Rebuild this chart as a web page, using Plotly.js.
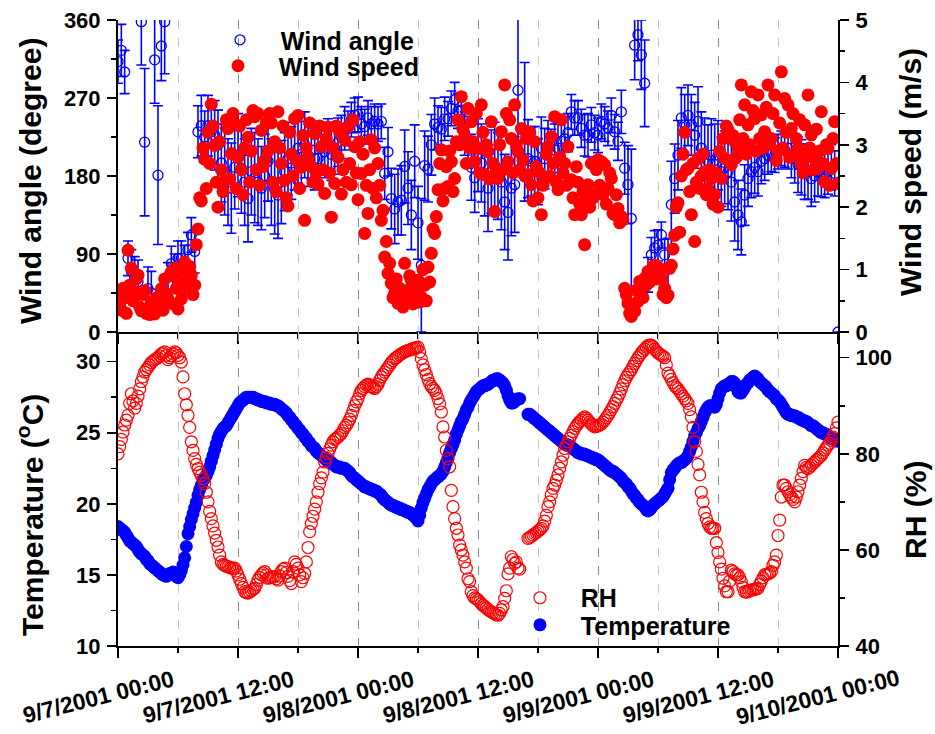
<!DOCTYPE html>
<html><head><meta charset="utf-8">
<script src="https://cdn.plot.ly/plotly-3.0.1.min.js"></script>
<style>html,body{margin:0;padding:0;background:#fff}#chart{width:935px;height:734px}</style>
</head><body><div id="chart"></div>
<script>
// records start 9/7/2001 00:00; wind angle every 20 minutes, other series every 10 minutes
const START = '2001-09-07T00:00:00Z';
const ANGLE_STEP_MIN = 20;
const STEP_MIN = 10;

const windAngle = [
312,325,300, 85,70,62, 58,358,219, 50,45,314, 181,330,358, 55,79,70,
85,85,80, 95,112,93, 231,238,225, 238,231,227, 216,195,185, 173,166,190,
204,189,173, 154,185,178, 173,166,180, 197,173,165, 158,173,185, 200,195,204,
212,205,216, 204,210,200, 200,212,208, 216,205,212, 219,225,235, 235,245,250,
251,240,237, 247,240,243, 240,243,183, 208,154,142, 150,152,191, 166,135,197,
126,77,192, 188,216,240, 236,234,246, 246,258,268, 255,256,229, 219,190,178,
204,195,182, 166,185,192, 180,173,150, 138,166,170, 279,null,231, 200,197,197,
185,212,200, 212,204,210, 212,220,223, 230,254,247, 247,235,227, 227,239,230,
227,243,240, 235,250,231, 220,254,189, 170,131,331, 343,320,287, 66,89,97,
100,112,89, 73,147,177, 204,247,239, 250,239,227, 243,212,205, 197,204,198,
204,185,190, 185,173,150, 135,127,158, 177,185,190, 185,197,200, 204,205,204,
208,212,210, 212,204,200, 193,190,185, 185,177,180, 185,183,181, 185,190,183,
0];
const windAngleErr = [
25,30,25, 20,25,25, 25,50,85, 25,25,50, 80,40,60, 25,20,20,
20,20,20, 20,20,25, 30,35,30, 35,35,40, 40,45,50, 50,52,48,
48,52,50, 50,50,52, 50,48,48, 46,50,52, 50,48,45, 42,42,40,
40,38,38, 36,34,36, 32,30,30, 30,30,30, 28,25,25, 20,20,20,
20,20,20, 20,20,20, 20,20,30, 28,35,40, 38,40,42, 42,40,42,
42,77,40, 38,35,30, 25,25,25, 20,20,20, 20,20,25, 30,38,40,
42,45,48, 50,48,50, 50,55,55, 55,55,55, 90,null,80, 45,40,40,
38,36,35, 32,30,30, 28,26,25, 22,20,20, 20,22,24, 25,20,20,
20,20,20, 20,20,20, 22,25,30, 45,80,40, 30,40,50, 20,20,20,
18,15,18, 35,50,40, 40,35,35, 35,35,38, 40,42,42, 42,42,42,
40,40,42, 44,45,45, 40,38,35, 32,30,30, 28,26,25, 22,20,20,
20,20,20, 24,26,28, 32,32,32, 32,32,30, 28,27,26, 26,26,26,
0];
const windSpeed = [
0.62,0.45,0.35,0.70,0.55,0.30, 1.31,0.75,1.02,0.50,0.64,0.85, 0.91,0.40,0.34,0.60,0.66,0.30,
0.37,0.28,0.48,0.32,0.29,0.55, 0.37,0.45,0.69,0.35,0.85,0.60, 0.53,0.90,0.96,0.45,1.02,0.70,
0.37,0.80,0.53,0.95,1.12,0.70, 0.85,1.05,0.91,0.60,0.75,1.40, 1.65,2.15,2.10,2.95,2.77,2.30,
3.20,2.70,3.65,3.30,2.99,2.40, 2.00,3.05,2.60,2.25,2.43,3.40, 3.26,2.45,2.86,3.50,3.34,2.30,
2.80,3.30,2.60,2.20,2.95,3.40, 3.12,2.40,2.90,3.55,3.45,2.60, 3.50,2.35,3.23,2.65,2.75,3.35,
2.90,3.50,3.35,2.40,3.05,2.25, 3.53,2.95,2.70,3.30,2.43,2.15, 2.02,3.20,2.85,2.50,3.42,2.75,
3.47,2.30,2.64,3.15,1.79,2.95, 2.80,3.35,2.65,2.40,3.18,2.55, 2.37,3.30,2.97,2.60,2.22,3.10,
3.28,2.55,1.84,2.95,2.38,3.30, 2.80,3.20,2.21,2.60,3.08,2.40, 3.29,2.70,2.36,3.40,2.97,2.55,
2.12,3.05,2.54,2.85,1.58,2.35, 1.90,2.60,3.08,2.30,2.95,2.15, 2.70,2.35,1.79,1.95,1.20,1.45,
0.94,1.10,0.78,0.55,0.62,0.85, 0.46,0.70,0.65,0.40,1.10,0.55, 0.67,0.90,0.83,0.45,0.62,0.75,
0.83,0.48,0.56,1.00,0.75,0.50, 1.04,0.80,1.26,1.65,1.58,1.85, 2.28,2.70,2.92,2.10,2.30,2.65,
2.33,2.90,2.73,2.25,2.46,3.05, 3.40,3.00,3.77,3.25,3.13,2.70, 3.58,2.95,3.37,3.05,2.73,3.50,
2.94,2.55,3.64,3.20,2.52,3.00, 2.89,2.45,3.37,2.70,1.93,2.60, 2.46,3.00,3.21,2.60,3.96,3.50,
2.73,3.40,3.10,2.55,3.64,3.00, 2.89,2.60,3.26,2.75,2.50,3.10, 2.52,3.20,2.36,2.10,3.05,2.65,
2.15,2.55,1.88,2.35,2.45,2.85, 2.97,2.50,3.13,2.70,3.45,2.40, 2.28,2.80,3.40,2.55,2.70,2.35,
2.97,2.40,2.44,2.15,1.88,2.65, 2.40,2.05,1.88,2.25,1.40,2.15, 2.36,2.00,2.70,2.15,2.20,2.60,
2.76,2.35,2.73,2.20,2.68,2.05, 2.30,2.55,2.46,1.90,1.88,2.20, 1.98,1.75,1.85,1.80,0.70,0.60,
0.46,0.30,0.25,0.35,0.33,0.67, 0.49,0.81,0.70,0.55,0.86,0.75, 0.97,0.80,0.90,1.05,1.07,0.85,
0.97,1.02,0.86,0.60,0.70,0.55, 0.59,1.02,1.07,1.33,1.55,2.00, 2.07,1.60,2.50,2.85,3.20,2.60,
2.62,2.25,1.88,2.70,1.45,2.40, 2.78,2.30,2.50,2.85,2.57,2.20, 2.30,2.60,2.46,2.05,2.20,2.55,
2.00,2.90,2.46,3.10,2.78,3.30, 3.24,2.75,2.68,3.15,3.05,2.80, 2.94,3.40,3.96,3.10,3.64,2.85,
3.32,3.00,3.85,3.55,3.42,2.90, 3.80,3.10,3.48,2.95,3.21,3.60, 3.96,3.00,3.10,3.50,3.80,2.75,
2.90,3.35,4.17,2.95,3.74,3.20, 3.64,2.80,3.26,3.50,2.84,3.10, 2.94,3.40,2.68,2.55,3.32,2.80,
3.80,2.95,3.16,2.60,2.78,3.25, 2.62,2.90,3.53,2.70,2.41,3.00, 2.94,2.35,2.62,3.10,3.37,2.70,
2.38];
const temperature = [
18.4,18.3,18.2,18.1,18.0,17.8, 17.6,17.4,17.3,17.2,17.1,17.0, 16.8,16.6,16.5,16.4,16.3,16.1,
16.0,15.8,15.7,15.6,15.5,15.4, 15.3,15.2,15.1,15.0,15.0,14.9, 15.0,15.1,15.1,15.2,15.0,14.9,
14.8,15.0,15.3,15.7,16.2,17.0, 17.9,18.4,18.9,19.3,19.7,20.1, 20.6,21.0,21.3,21.6,21.8,22.0,
22.3,22.6,23.0,23.4,23.8,24.2, 24.6,24.9,25.1,25.3,25.4,25.5, 25.7,25.9,26.1,26.3,26.5,26.7,
26.9,27.1,27.2,27.3,27.4,27.5, 27.5,27.5,27.5,27.5,27.4,27.4, 27.3,27.3,27.2,27.2,27.2,27.1,
27.1,27.1,27.0,27.0,27.0,26.9, 26.9,26.8,26.7,26.6,26.5,26.4, 26.2,26.1,25.9,25.8,25.6,25.5,
25.3,25.2,25.0,24.9,24.7,24.6, 24.4,24.3,24.1,24.0,23.9,23.7, 23.6,23.5,23.4,23.3,23.2,23.1,
23.0,23.0,22.9,22.8,22.7,22.6, 22.6,22.6,22.5,22.5,22.5,22.4, 22.3,22.2,22.0,21.9,21.8,21.7,
21.6,21.5,21.4,21.3,21.2,21.2, 21.1,21.1,21.0,21.0,20.9,20.9, 20.8,20.7,20.6,20.4,20.3,20.2,
20.1,20.0,19.9,19.9,19.8,19.8, 19.7,19.7,19.6,19.6,19.5,19.5, 19.4,19.4,19.3,19.2,19.1,19.0,
18.8,19.2,19.7,20.1,20.4,20.7, 21.0,21.2,21.4,21.6,21.7,21.8, 21.9,22.0,22.1,22.3,22.6,22.9,
23.3,23.6,23.9,24.2,24.5,24.9, 25.2,25.5,25.8,26.0,26.3,26.6, 26.8,27.1,27.3,27.5,27.7,27.9,
28.0,28.1,28.2,28.3,28.3,28.4, 28.4,28.5,28.6,28.7,28.7,28.8, 28.8,28.7,28.6,28.5,28.3,28.0,
27.6,27.3,27.1,27.1,27.2,27.3, 27.4,27.4,null,null,null,null, 26.3,26.3,26.2,26.1,26.0,25.9,
25.8,25.7,25.6,25.5,25.4,25.3, 25.2,25.1,25.0,24.9,24.8,24.7, 24.6,24.5,24.4,24.3,24.2,24.2,
24.1,24.1,24.0,23.9,23.8,23.7, 23.6,23.6,23.5,23.5,23.5,23.4, 23.4,23.3,23.3,23.2,23.2,23.1,
23.1,23.0,22.9,22.8,22.7,22.6, 22.5,22.4,22.3,22.3,22.2,22.1, 22.0,21.9,21.8,21.6,21.5,21.4,
21.2,21.1,20.9,20.7,20.6,20.4, 20.3,20.1,20.0,19.9,19.8,19.6, 19.5,19.6,19.7,19.9,20.0,20.1,
20.2,20.3,20.4,20.5,20.7,20.9, 21.1,21.7,22.2,22.4,22.5,22.7, 22.8,22.9,22.9,23.0,23.1,23.2,
23.4,23.7,24.0,24.4,24.8,25.0, 25.3,25.5,25.8,26.1,26.4,26.6, 26.8,26.9,26.9,26.9,26.8,27.0,
27.4,27.8,28.1,28.2,28.3,28.3, 28.4,28.5,28.6,28.6,28.5,28.2, 27.9,27.8,27.8,28.0,28.2,28.4,
28.5,28.7,28.8,28.9,29.0,28.9, 28.8,28.6,28.5,28.4,28.3,28.2, 28.0,27.9,27.8,27.7,27.6,27.4,
27.3,27.2,27.0,26.8,26.6,26.4, 26.3,26.3,26.2,26.2,26.2,26.1, 26.1,26.0,25.9,25.9,25.8,25.8,
25.7,25.6,25.5,25.5,25.4,25.3, 25.2,25.1,25.0,25.0,24.9,24.9, 24.8,24.7,24.6,24.6,24.5,24.5,
24.4];
const rh = [
80.0,81.5,83.0,84.5,86.0,87.0, 88.0,90.5,92.5,91.0,89.5,90.5, 92.0,93.5,95.0,96.0,97.0,97.5,
98.0,98.5,99.0,99.3,99.6,99.8, 100.0,100.4,100.8,101.0,101.2,100.5, 99.6,100.0,100.4,100.8,101.2,101.0,
100.5,100.0,99.1,96.0,92.5,90.2, 88.0,85.5,82.5,80.7,79.0,77.8, 76.9,76.2,75.5,74.8,73.8,72.0,
70.0,68.0,66.5,65.0,63.5,62.0, 60.6,58.9,57.5,57.0,56.8,56.6, 56.5,56.3,56.2,56.2,56.2,55.6,
54.8,53.9,53.0,52.2,51.3,51.1, 51.0,51.2,51.5,51.8,52.0,52.8, 53.7,54.3,54.8,55.2,55.5,54.8,
54.1,54.2,54.4,54.4,54.4,54.0, 53.7,54.6,55.5,56.0,56.2,55.3, 54.5,53.6,53.0,55.5,57.5,57.0,
56.2,54.8,53.4,54.2,55.1,57.5, 60.5,63.8,65.5,67.0,68.5,70.0, 72.0,73.8,75.0,76.2,78.3,79.2,
80.1,81.0,81.8,82.5,83.0,83.2, 83.5,83.9,84.2,84.8,85.5,85.9, 86.5,87.2,88.0,89.0,90.0,90.8,
91.5,92.5,93.2,93.6,94.0,94.3, 94.5,94.3,94.0,93.8,93.6,94.0, 94.5,95.3,96.0,96.5,97.0,97.5,
98.0,98.5,99.0,99.4,99.8,100.0, 100.3,100.6,100.8,101.0,101.2,101.4, 101.5,101.6,101.8,101.9,102.0,102.1,
102.2,101.2,99.8,98.5,97.5,96.5, 95.5,94.6,94.0,93.6,93.2,92.5, 91.5,90.4,88.7,85.6,83.5,80.7,
79.0,77.3,72.4,69.0,66.5,64.5, 63.1,61.0,60.0,58.9,57.5,56.2, 54.0,53.4,51.3,50.5,50.0,49.8,
49.6,49.2,48.8,48.5,48.2,47.9, 47.6,47.3,47.1,46.9,46.7,46.5, 46.4,46.8,47.5,48.2,49.9,51.5,
55.0,56.2,58.6,58.0,57.2,57.5, 56.2,56.0,null,null,null,null, 62.4,62.6,62.8,63.1,63.4,63.6,
63.9,64.2,64.5,65.0,66.0,67.2, 69.0,70.0,71.5,72.8,73.5,74.5, 75.6,77.0,78.3,79.7,81.1,81.8,
82.5,83.2,83.9,84.6,85.3,85.8, 86.3,86.7,87.0,87.4,87.7,87.4, 87.0,86.6,86.2,85.9,85.6,85.7,
85.8,86.0,86.2,86.6,87.0,87.5, 88.0,88.6,89.2,89.8,90.5,91.2, 91.8,92.6,93.5,94.4,95.2,95.9,
96.5,97.0,97.5,98.2,98.8,99.4, 100.0,100.5,101.0,101.4,101.8,102.2, 102.5,102.6,102.6,102.3,101.8,101.4,
101.0,100.8,100.5,100.3,100.0,98.5, 96.8,96.2,95.5,94.8,94.2,93.8, 93.5,93.0,92.5,92.0,91.5,91.0,
90.5,89.2,87.7,85.5,82.5,80.5, 77.8,75.6,72.0,70.0,67.8,66.5, 65.5,64.8,64.5,64.5,64.5,61.5,
59.5,57.5,56.0,54.1,52.5,51.3, 51.3,53.5,55.8,55.5,55.0,54.8, 54.8,54.2,53.4,52.2,51.3,51.2,
51.3,51.5,51.7,51.7,51.8,51.9, 52.0,52.8,53.5,54.2,54.8,54.9, 55.0,55.2,55.5,56.8,57.5,58.9,
63.0,66.2,71.0,73.5,73.5,72.8, 72.1,71.5,71.0,70.5,70.0,71.0, 72.1,73.5,74.9,76.3,77.6,77.2,
76.9,77.2,77.6,78.0,78.3,78.7, 79.0,79.3,79.7,80.2,80.8,81.3, 81.8,82.2,82.8,83.5,84.2,85.4,
86.6];

const tickTimes = ['2001-09-07 00:00','2001-09-07 12:00','2001-09-08 00:00','2001-09-08 12:00',
                   '2001-09-09 00:00','2001-09-09 12:00','2001-09-10 00:00'];
const tickLabels = ['9/7/2001 00:00','9/7/2001 12:00','9/8/2001 00:00','9/8/2001 12:00',
                    '9/9/2001 00:00','9/9/2001 12:00','9/10/2001 00:00'];

function timeGrid(n, stepMin){
  const out = [];
  for (let i = 0; i < n; i++){
    const d = new Date(Date.parse(START) + i*stepMin*60000);
    out.push(d.toISOString().slice(0,16).replace('T',' '));
  }
  return out;
}
const angleTimes = timeGrid(windAngle.length, ANGLE_STEP_MIN);
const times = timeGrid(windSpeed.length, STEP_MIN);

const BLUE = '#0000ff', RED = '#ff0000';
const FONT = 'Liberation Sans, Arial, Helvetica, sans-serif';
const NB = '\u00a0\u00a0\u00a0';

const traces = [
  {x: angleTimes, y: windAngle, type:'scatter', mode:'markers', name: NB+'Wind angle', xaxis:'x', yaxis:'y',
   marker:{symbol:'circle-open', size:10, color:BLUE, line:{width:1.3, color:BLUE}},
   error_y:{type:'data', array: windAngleErr, visible:true, color:BLUE, thickness:1.6, width:5},
   legend:'legend'},
  {x: times, y: windSpeed, type:'scatter', mode:'markers', name: NB+'Wind speed', xaxis:'x', yaxis:'y2',
   marker:{symbol:'circle', size:13, color:RED}, legend:'legend2'},
  {x: times, y: temperature, type:'scatter', mode:'markers', name: NB+'Temperature', xaxis:'x2', yaxis:'y3',
   marker:{symbol:'circle', size:13, color:BLUE}, legend:'legend4'},
  {x: times, y: rh, type:'scatter', mode:'markers', name: NB+'RH', xaxis:'x2', yaxis:'y4',
   marker:{symbol:'circle-open', size:12, color:RED, line:{width:1.2, color:RED}}, legend:'legend3'}
];

const xRange = ['2001-09-07 00:00','2001-09-10 00:00'];
const H12 = 43200000, H6 = 21600000;
const SPLIT = 0.5016;
function xAxis(anchor){
  return {type:'date', range:xRange, anchor:anchor, domain:[0,1],
    tickmode:'linear', tick0:xRange[0], dtick:H12, ticks:'outside', ticklen:10, tickwidth:1.5, tickcolor:'#000',
    showticklabels:false, showline:true, linecolor:'#000', linewidth:2,
    showgrid:true, gridcolor:'#8c8c8c', griddash:'dash', gridwidth:1,
    minor:{dtick:H6, ticks:'outside', ticklen:5, tickwidth:1.5, tickcolor:'#000', showgrid:true, gridcolor:'#c8c8c8', griddash:'dash', gridwidth:1},
    zeroline:false, fixedrange:true};
}
const tickFont = {family:FONT, size:22, color:'#000', weight:'bold'};
function yAxis(opts){
  return Object.assign({ticks:'outside', ticklen:9, tickwidth:1.5, tickcolor:'#000', tickfont:tickFont,
    showline:true, linecolor:'#000', linewidth:2, showgrid:false, zeroline:false, tickmode:'linear', fixedrange:true,
    ticklabelstandoff:2}, opts);
}

const legendBase = {xanchor:'left', yanchor:'middle', bgcolor:'rgba(0,0,0,0)', borderwidth:0,
  font:{family:FONT, size:25, color:'#000', weight:'bold'}, itemwidth:30};

const annotations = tickTimes.map(function(t, i){
  return {x:t, xref:'x2', yref:'paper', y:-0.0815, text:tickLabels[i], showarrow:false,
    textangle:-14, xshift:-20, font:{family:FONT, size:23, color:'#000', weight:'bold'},
    xanchor:'center', yanchor:'middle'};
});
const titleFont = {family:FONT, size:30, color:'#000', weight:'bold'};
annotations.push(
  {text:'Wind angle (degree)', xref:'paper', yref:'paper', x:-0.1222, y:0.7428, textangle:-90, showarrow:false, font:titleFont, xanchor:'center', yanchor:'middle'},
  {text:'Temperature (<sup>o</sup>C)', xref:'paper', yref:'paper', x:-0.1222, y:0.2093, textangle:-90, showarrow:false, font:titleFont, xanchor:'center', yanchor:'middle'},
  {text:'Wind speed (m/s)', xref:'paper', yref:'paper', x:1.1014, y:0.7572, textangle:-90, showarrow:false, font:titleFont, xanchor:'center', yanchor:'middle'},
  {text:'RH (%)', xref:'paper', yref:'paper', x:1.1083, y:0.2173, textangle:-90, showarrow:false, font:titleFont, xanchor:'center', yanchor:'middle'}
);

const layout = {
  width:935, height:734, margin:{l:118, r:97, t:20, b:88},
  paper_bgcolor:'#fff', plot_bgcolor:'#fff',
  font:{family:FONT, color:'#000', weight:'bold'},
  showlegend:true,
  xaxis: xAxis('y'),
  xaxis2: xAxis('y3'),
  xaxis3: {type:'date', range:xRange, overlaying:'x', side:'top', anchor:'y',
    tickmode:'linear', tick0:xRange[0], dtick:H12, ticks:'inside', ticklen:9, tickwidth:1.5, tickcolor:'#000',
    showticklabels:false, showline:true, linecolor:'#000', linewidth:2, showgrid:false, zeroline:false,
    minor:{dtick:H6, ticks:'inside', ticklen:5, tickwidth:1.5, tickcolor:'#000', showgrid:false}},
  yaxis: yAxis({domain:[SPLIT,1], range:[0,360], tick0:0, dtick:90, anchor:'x', minor:{dtick:45, ticks:'outside', ticklen:5, tickwidth:1.5, tickcolor:'#000'}}),
  yaxis2: yAxis({domain:[SPLIT,1], range:[0,5], tick0:0, dtick:1, anchor:'x', overlaying:'y', side:'right', minor:{dtick:0.5, ticks:'outside', ticklen:5, tickwidth:1.5, tickcolor:'#000'}}),
  yaxis3: yAxis({domain:[0,SPLIT], range:[10,32.09], tick0:10, dtick:5, anchor:'x2', minor:{dtick:2.5, ticks:'outside', ticklen:5, tickwidth:1.5, tickcolor:'#000'}}),
  yaxis4: yAxis({domain:[0,SPLIT], range:[40,105.35], tick0:40, dtick:20, anchor:'x2', overlaying:'y3', side:'right', minor:{dtick:10, ticks:'outside', ticklen:5, tickwidth:1.5, tickcolor:'#000'}}),
  legend: Object.assign({}, legendBase, {x:0.1417, y:0.968}),
  legend2: Object.assign({}, legendBase, {x:0.1389, y:0.9265}),
  legend3: Object.assign({}, legendBase, {x:0.5583, y:0.0767}),
  legend4: Object.assign({}, legendBase, {x:0.5583, y:0.0335}),
  annotations: annotations
};

Plotly.newPlot('chart', traces, layout, {displayModeBar:false, staticPlot:true});
</script>
</body></html>
